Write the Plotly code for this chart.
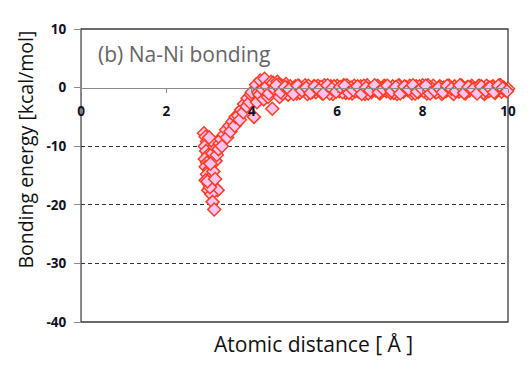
import plotly.graph_objects as go

# ---- data ----
# short-distance branch (steep well)
well_x = [2.88, 2.92, 2.95, 2.90, 2.93, 2.98, 2.90, 2.95, 2.92, 3.00, 2.95, 3.05, 2.92, 3.00,
          3.10, 2.98, 3.20, 3.05, 3.08, 3.12, 3.02, 3.10, 3.15, 3.08, 3.12, 3.20, 3.05, 3.00,
          2.96, 3.03, 3.14]
well_y = [-7.8, -8.4, -9.2, -10.0, -10.8, -11.5, -12.2, -12.8, -13.5, -14.0, -14.8, -15.2, -15.8, -16.5,
          -16.8, -17.5, -17.5, -18.2, -19.5, -20.8, -17.0, -14.3, -12.5, -11.2, -10.0, -9.2, -9.0, -8.5,
          -16.0, -13.0, -15.6]

# rising branch
rise_x = [3.18, 3.22, 3.25, 3.28, 3.30, 3.35, 3.40, 3.42, 3.48, 3.50, 3.55, 3.60, 3.62, 3.68,
          3.72, 3.75, 3.80, 3.82, 3.88, 3.90, 3.95, 3.98]
rise_y = [-11.5, -10.5, -9.5, -8.8, -10.0, -8.0, -7.2, -8.5, -6.5, -7.5, -5.8, -6.5, -5.0, -4.8,
          -5.5, -3.8, -4.2, -2.8, -3.2, -1.8, -2.5, -1.2]

# transition region
trans_x = [4.00, 4.05, 4.10, 4.12, 4.15, 4.18, 4.20, 4.25, 4.28, 4.30, 4.35, 4.38, 4.40, 4.45, 4.48]
trans_y = [-0.8, -5.0, 0.5, -2.5, -0.8, -1.2, 1.2, -0.3, -2.0, 1.5, 0.2, -1.6, -1.0, 1.0, -3.6]

# flat tail, first row
tail_a_x = [4.50, 4.55, 4.60, 4.65, 4.70, 4.75, 4.80, 4.85, 4.90, 4.95,
            5.00, 5.05, 5.10, 5.15, 5.20, 5.25, 5.30, 5.35, 5.40, 5.45,
            5.50, 5.55, 5.60, 5.65, 5.70, 5.75, 5.80, 5.85, 5.90, 5.95,
            6.00, 6.05, 6.10, 6.15, 6.20, 6.25, 6.30, 6.35, 6.40, 6.45,
            6.50, 6.55, 6.60, 6.65, 6.70, 6.75, 6.80, 6.85, 6.90, 6.95,
            7.00, 7.05, 7.10, 7.15, 7.20, 7.25, 7.30, 7.35, 7.40, 7.45,
            7.50, 7.55, 7.60, 7.65, 7.70, 7.75, 7.80, 7.85, 7.90, 7.95,
            8.00, 8.05, 8.10, 8.15, 8.20, 8.25, 8.30, 8.35, 8.40, 8.45,
            8.50, 8.55, 8.60, 8.65, 8.70, 8.75, 8.80, 8.85, 8.90, 8.95,
            9.00, 9.05, 9.10, 9.15, 9.20, 9.25, 9.30, 9.35, 9.40, 9.45,
            9.50, 9.55, 9.60, 9.65, 9.70, 9.75, 9.80, 9.85, 9.90, 9.95,
            10.00]
tail_a_y = [0.8, -0.5, 1.0, -1.6, 0.3, -0.9, 0.6, -1.2, 0.2, -0.4,
            0.1, -1.0, 0.3, -0.6, -0.2, 0.4, -1.1, 0.0, -0.5, 0.2,
            -0.8, 0.3, -0.3, -1.0, 0.4, -0.1, -0.7, 0.2, -1.1, 0.0,
            0.3, -0.6, -0.2, 0.4, -0.9, 0.1, -0.4, -1.0, 0.3, -0.2,
            -0.7, 0.2, 0.0, -1.1, 0.4, -0.3, -0.8, 0.1, -0.5, 0.3,
            -1.0, -0.1, 0.3, -0.6, 0.0, -0.9, 0.2, -0.3, -1.1, 0.4,
            -0.2, -0.7, 0.1, -0.4, 0.3, -1.0, -0.1, 0.2, -0.8, 0.0,
            0.4, -0.5, -1.0, 0.1, -0.2, 0.3, -0.8, -0.3, 0.2, -1.1,
            0.0, -0.6, 0.3, -0.4, -0.9, 0.2, -0.1, -0.7, 0.4, -0.3,
            -1.0, 0.1, -0.5, 0.3, -0.2, -0.8, 0.2, -0.4, 0.0, -1.1,
            0.3, -0.6, -0.1, 0.2, -0.9, -0.3, 0.4, -0.7, 0.0, -0.4,
            -0.2]

# flat tail, second row
tail_b_x = [4.525, 4.625, 4.725, 4.825, 4.925, 5.025, 5.125, 5.225, 5.325, 5.425,
            5.525, 5.625, 5.725, 5.825, 5.925, 6.025, 6.125, 6.225, 6.325, 6.425,
            6.525, 6.625, 6.725, 6.825, 6.925, 7.025, 7.125, 7.225, 7.325, 7.425,
            7.525, 7.625, 7.725, 7.825, 7.925, 8.025, 8.125, 8.225, 8.325, 8.425,
            8.525, 8.625, 8.725, 8.825, 8.925, 9.025, 9.125, 9.225, 9.325, 9.425,
            9.525, 9.625, 9.725, 9.825, 9.925]
tail_b_y = [-0.2, 0.5, -1.0, 0.0, -0.6, 0.2, -0.9, -0.3, 0.3, -0.7,
            -0.1, 0.1, -0.5, -1.0, 0.2, -0.3, -0.8, 0.4, 0.0, -0.6,
            -0.2, 0.3, -1.0, -0.4, 0.1, -0.7, 0.2, -0.1, -0.9, 0.3,
            -0.5, 0.0, -0.3, -1.0, 0.2, -0.6, 0.4, -0.2, -0.8, 0.1,
            -0.4, 0.3, -1.1, -0.1, 0.2, -0.7, 0.0, -0.5, 0.3, -0.9,
            -0.2, 0.1, -0.6, 0.4, -0.3]

# flat tail, third row
tail_c_x = [4.575, 4.675, 4.775, 4.875, 4.975, 5.075, 5.175, 5.275, 5.375, 5.475,
            5.575, 5.675, 5.775, 5.875, 5.975, 6.075, 6.175, 6.275, 6.375, 6.475,
            6.575, 6.675, 6.775, 6.875, 6.975, 7.075, 7.175, 7.275, 7.375, 7.475,
            7.575, 7.675, 7.775, 7.875, 7.975, 8.075, 8.175, 8.275, 8.375, 8.475,
            8.575, 8.675, 8.775, 8.875, 8.975, 9.075, 9.175, 9.275, 9.375, 9.475,
            9.575, 9.675, 9.775, 9.875, 9.975]
tail_c_y = [0.4, -0.8, 0.1, -0.3, -1.1, 0.3, -0.5, 0.0, -0.9, 0.2,
            -0.4, -1.0, 0.4, -0.2, -0.7, 0.1, 0.3, -0.9, -0.4, 0.2,
            -1.1, 0.0, -0.5, 0.4, -0.8, -0.2, 0.3, -0.6, 0.1, -1.0,
            0.2, -0.3, 0.4, -0.7, -0.1, 0.3, -1.0, -0.5, 0.0, -0.8,
            0.3, -0.2, -0.6, 0.4, -0.9, 0.1, -0.3, -1.0, 0.2, -0.5,
            0.0, -0.8, 0.3, -0.1, -0.6]

x_ticks = [0, 2, 4, 6, 8, 10]
y_ticks = [10, 0, -10, -20, -30, -40]
y_dashed = [-10, -20, -30]
x_range = [0, 10]
y_range = [-40, 10]

# ---- figure ----
all_x = well_x + rise_x + trans_x + tail_a_x + tail_b_x + tail_c_x
all_y = well_y + rise_y + trans_y + tail_a_y + tail_b_y + tail_c_y

fig = go.Figure()
fig.add_trace(go.Scatter(
    x=all_x, y=all_y, mode="markers",
    marker=dict(symbol="diamond", size=10, color="#fcc4f4",
                line=dict(color="#ff3d22", width=1.5)),
    cliponaxis=False, showlegend=False, hoverinfo="skip",
))

tickfont = dict(family="Open Sans", size=13.5, color="#111122", weight="bold")
zero_pos = (0 - y_range[0]) / (y_range[1] - y_range[0])

# page body adds an 8px offset, so the figure is 522x366 and margins are shifted
fig.update_layout(
    width=522, height=366,
    margin=dict(l=73, r=22, t=18, b=52),
    paper_bgcolor="white", plot_bgcolor="white",
    xaxis=dict(range=x_range, tickvals=x_ticks, ticktext=[str(v) for v in x_ticks],
               anchor="free", position=zero_pos, showgrid=False, zeroline=False,
               showline=True, linecolor="#8c8c8c", linewidth=1,
               ticks="outside", ticklen=4, tickcolor="#8c8c8c",
               tickfont=tickfont, ticklabelstandoff=7),
    yaxis=dict(range=y_range, tickvals=y_ticks, ticktext=[str(v) for v in y_ticks],
               showgrid=False,
               minor=dict(tickvals=y_dashed, showgrid=True, gridcolor="#333333",
                          griddash="4px,3px", gridwidth=1, ticks=""),
               zeroline=False, showline=True, linecolor="#8c8c8c", linewidth=1,
               ticks="outside", ticklen=6, tickcolor="#8c8c8c", tickfont=tickfont,
               ticklabelstandoff=5),
    shapes=[dict(type="rect", xref="x domain", yref="y domain", x0=0, x1=1, y0=0, y1=1,
                 line=dict(color="#3a3a3a", width=1.3), layer="below")],
    annotations=[
        dict(text="(b) Na-Ni bonding", xref="paper", yref="paper", x=0.035, y=0.915,
             xanchor="left", yanchor="middle", showarrow=False,
             font=dict(family="Open Sans", size=21, color="#666666")),
        dict(text="Bonding energy [kcal/mol]", xref="paper", yref="paper", x=-0.13, y=0.59,
             xanchor="center", yanchor="middle", textangle=-90, showarrow=False,
             font=dict(family="Open Sans", size=19.5, color="#111111")),
        dict(text="Atomic distance [ Å ]", xref="paper", yref="paper", x=0.545, y=-0.021,
             xanchor="center", yanchor="top", showarrow=False,
             font=dict(family="Open Sans", size=21, color="#111111")),
    ],
)

fig.write_html("out.html")
